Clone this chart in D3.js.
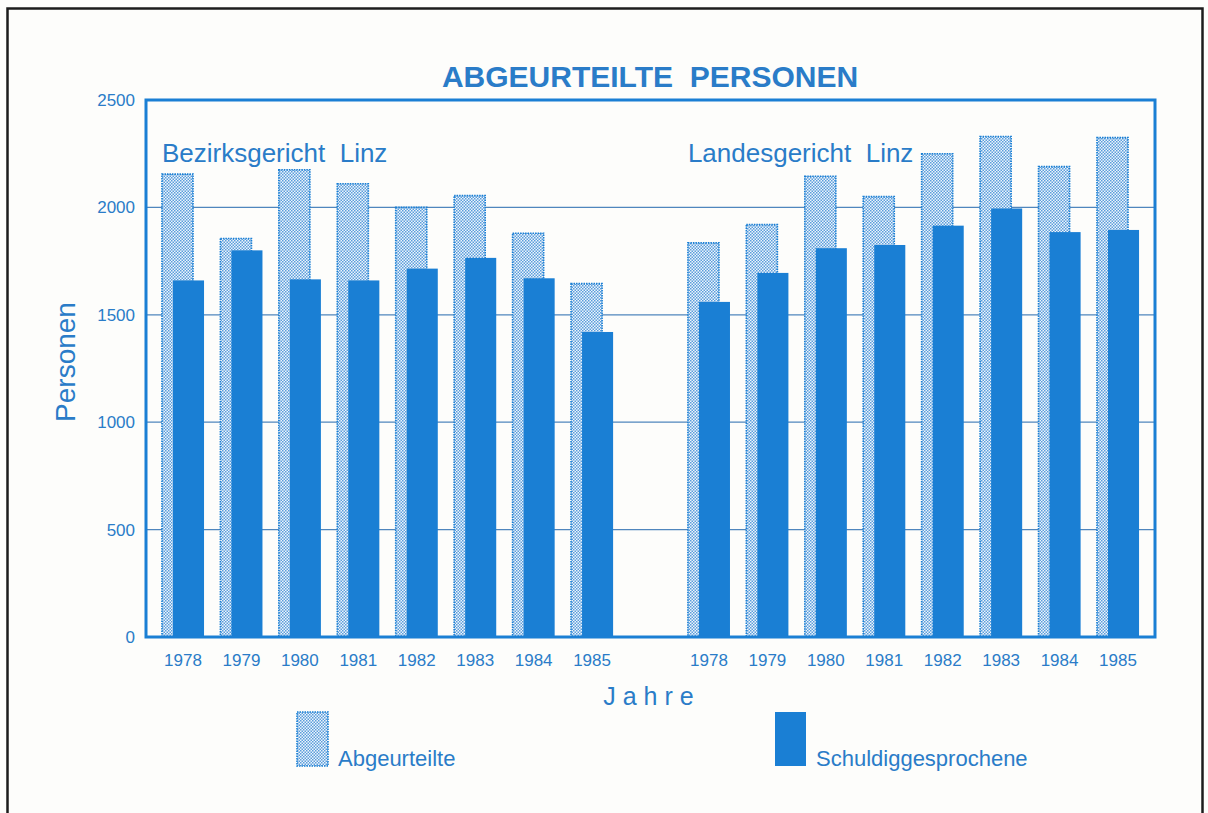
<!DOCTYPE html>
<html>
<head>
<meta charset="utf-8">
<script src="https://cdn.jsdelivr.net/npm/d3@7"></script>
<style>
  html, body { margin: 0; padding: 0; background: #fdfdfb; }
  svg { display: block; }
  text { font-family: "Liberation Sans", Arial, Helvetica, sans-serif; fill: #2a7cc8; }
</style>
</head>
<body>
<svg id="chart" width="1208" height="813"></svg>
<script>
// Jahre je Gericht
const years = ["1978", "1979", "1980", "1981", "1982", "1983", "1984", "1985"];
const courts = ["Bezirksgericht  Linz", "Landesgericht  Linz"];

// Abgeurteilte Personen
const abgeurteiltBG = [2155, 1855, 2175, 2110, 2000, 2055, 1880, 1645];
const abgeurteiltLG = [1835, 1920, 2145, 2050, 2250, 2330, 2190, 2325];

// Schuldiggesprochene Personen
const schuldigBG = [1660, 1800, 1665, 1660, 1715, 1765, 1670, 1420];
const schuldigLG = [1560, 1695, 1810, 1825, 1915, 1995, 1885, 1895];

const yTicks = [0, 500, 1000, 1500, 2000, 2500];

const blue = "#1a7fd4";
const textBlue = "#2a7cc8";

const svg = d3.select("#chart");

// outer frame of the sheet
svg.append("rect")
  .attr("x", 7.5).attr("y", 8.5).attr("width", 1195).attr("height", 830)
  .attr("fill", "none").attr("stroke", "#1c1c1c").attr("stroke-width", 2.5);

// dotted fill for the "Abgeurteilte" bars
const defs = svg.append("defs");
const pat = defs.append("pattern")
  .attr("id", "dots").attr("patternUnits", "userSpaceOnUse")
  .attr("width", 3).attr("height", 3);
pat.append("rect").attr("width", 3).attr("height", 3).attr("fill", "#eef5fc");
pat.append("rect").attr("x", 0).attr("y", 0).attr("width", 1.5).attr("height", 1.5).attr("fill", "#5b9ddb");
pat.append("rect").attr("x", 1.5).attr("y", 1.5).attr("width", 1.5).attr("height", 1.5).attr("fill", "#5b9ddb");

const plot = { left: 146, right: 1155, top: 100, bottom: 637 };

// one band per year, with an empty band between the two courts
const rows = [];
years.forEach((yr, i) => rows.push({ key: "B" + yr, year: yr, abg: abgeurteiltBG[i], sch: schuldigBG[i] }));
rows.push({ key: "gap", year: null });
years.forEach((yr, i) => rows.push({ key: "L" + yr, year: yr, abg: abgeurteiltLG[i], sch: schuldigLG[i] }));

const x = d3.scaleBand()
  .domain(rows.map(d => d.key))
  .range([plot.left, plot.right])
  .paddingInner(0.28)
  .paddingOuter(0.273);

const y = d3.scaleLinear().domain([0, 2500]).range([plot.bottom, plot.top]);

// grid lines
svg.append("g")
  .selectAll("line")
  .data(yTicks.filter(t => t > 0 && t < 2500))
  .join("line")
  .attr("x1", plot.left).attr("x2", plot.right)
  .attr("y1", d => y(d)).attr("y2", d => y(d))
  .attr("stroke", "#4f86bd").attr("stroke-width", 1.2);

// y axis labels
const yAxis = d3.axisLeft(y).tickValues(yTicks).tickSize(0).tickPadding(11).tickFormat(d3.format("d"));
const yg = svg.append("g").attr("transform", `translate(${plot.left},0)`).call(yAxis);
yg.select(".domain").remove();
yg.selectAll("text").attr("font-size", 17).style("fill", textBlue)
  .attr("font-family", "Liberation Sans, Arial, sans-serif");

const bw = x.bandwidth();
const wBar = bw * 31 / 42;
const offset = bw * 11 / 42;
const data = rows.filter(d => d.year);

// Abgeurteilte bars (dotted)
svg.append("g")
  .selectAll("rect")
  .data(data)
  .join("rect")
  .attr("x", d => x(d.key))
  .attr("y", d => y(d.abg))
  .attr("width", wBar)
  .attr("height", d => y(0) - y(d.abg))
  .attr("fill", "url(#dots)")
  .attr("stroke", blue).attr("stroke-width", 1.6)
  .attr("stroke-dasharray", "1.5 1");

// Schuldiggesprochene bars (solid)
svg.append("g")
  .selectAll("rect")
  .data(data)
  .join("rect")
  .attr("x", d => x(d.key) + offset)
  .attr("y", d => y(d.sch))
  .attr("width", wBar)
  .attr("height", d => y(0) - y(d.sch))
  .attr("fill", blue);

// plot frame
svg.append("rect")
  .attr("x", plot.left).attr("y", plot.top)
  .attr("width", plot.right - plot.left).attr("height", plot.bottom - plot.top)
  .attr("fill", "none").attr("stroke", blue).attr("stroke-width", 3);

// x axis year labels
const xAxis = d3.axisBottom(x).tickSize(0).tickPadding(17)
  .tickFormat(k => k === "gap" ? "" : k.slice(1));
const xg = svg.append("g").attr("transform", `translate(0,${plot.bottom})`).call(xAxis);
xg.select(".domain").remove();
xg.selectAll("text").attr("font-size", 17).style("fill", textBlue)
  .attr("font-family", "Liberation Sans, Arial, sans-serif");

// court labels
svg.append("text").attr("x", x("B1978")).attr("y", 162)
  .attr("font-size", 26).attr("xml:space", "preserve").text(courts[0]);
svg.append("text").attr("x", x("L1978")).attr("y", 162)
  .attr("font-size", 26).attr("xml:space", "preserve").text(courts[1]);

// title
svg.append("text").attr("x", 650).attr("y", 87).attr("text-anchor", "middle")
  .attr("font-size", 30).attr("font-weight", "bold").attr("xml:space", "preserve")
  .text("ABGEURTEILTE  PERSONEN");

// axis titles
svg.append("text").attr("transform", "translate(75,362) rotate(-90)")
  .attr("text-anchor", "middle").attr("font-size", 28).text("Personen");
svg.append("text").attr("x", 652).attr("y", 705).attr("text-anchor", "middle")
  .attr("font-size", 25).attr("letter-spacing", 7).text("Jahre");

// legend
const legend = [
  { label: "Abgeurteilte", x: 297, fill: "url(#dots)", dotted: true },
  { label: "Schuldiggesprochene", x: 775, fill: blue, dotted: false }
];
const lg = svg.append("g").selectAll("g").data(legend).join("g");
lg.append("rect")
  .attr("x", d => d.x).attr("y", 712).attr("width", 31).attr("height", 54)
  .attr("fill", d => d.fill)
  .attr("stroke", d => d.dotted ? blue : "none").attr("stroke-width", 1.6)
  .attr("stroke-dasharray", "1.5 1");
lg.append("text")
  .attr("x", d => d.x + 41).attr("y", 766)
  .attr("font-size", 22).text(d => d.label);
</script>
</body>
</html>
